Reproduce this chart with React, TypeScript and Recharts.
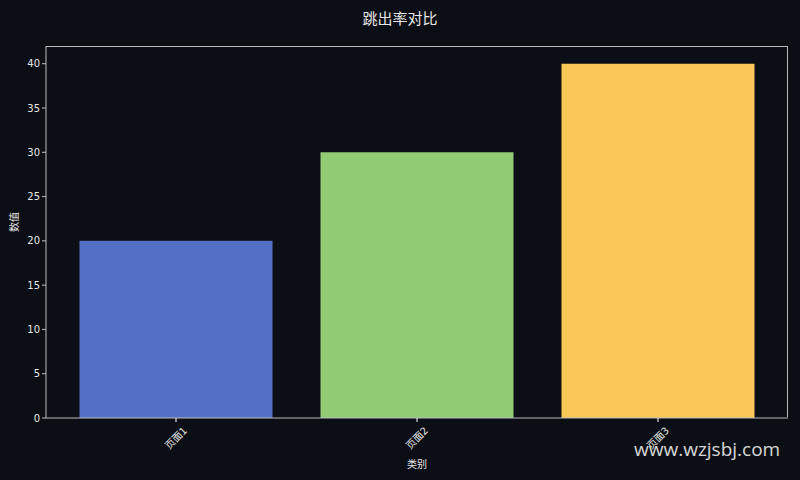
import { BarChart, Bar, XAxis, YAxis, Cell, Label } from 'recharts'

const categories = ['页面1', '页面2', '页面3']
const values = [20, 30, 40]
const yTicks = [0, 5, 10, 15, 20, 25, 30, 35, 40]

const COLORS = ['#5470c6', '#91cc75', '#fac858']
const BG = '#0b0e14'
const TEXT = '#e6e6e6'
const AXIS = '#bcbcbc'
const FONT = '"DejaVu Sans", "Noto Sans CJK SC", sans-serif'

const data = categories.map((name, i) => ({ name, value: values[i] }))

function RotatedTick({ x, y, payload }: any) {
  return (
    <text
      x={x}
      y={y + 14}
      transform={`rotate(-45 ${x} ${y + 14})`}
      textAnchor="middle"
      dominantBaseline="central"
      fill={TEXT}
      fontSize={10}
      fontFamily={FONT}
    >
      {payload.value}
    </text>
  )
}

export default function App() {
  return (
    <div style={{ position: 'absolute', left: 0, top: 0, width: 800, height: 480, background: BG, fontFamily: FONT }}>
      <div style={{ position: 'absolute', top: 7, width: 800, textAlign: 'center', color: TEXT, fontSize: 15 }}>
        跳出率对比
      </div>
      <BarChart width={800} height={480} data={data} margin={{ top: 46, right: 12, bottom: 0, left: 0 }}>
        <XAxis
          dataKey="name"
          height={62}
          padding={{ left: 9.5, right: 9.5 }}
          axisLine={{ stroke: AXIS }}
          tickLine={{ stroke: '#ffffff' }}
          tickSize={4}
          tick={<RotatedTick />}
          interval={0}
        >
          <Label value="类别" position="insideBottom" offset={12} fill={TEXT} fontSize={10} fontFamily={FONT} />
        </XAxis>
        <YAxis
          domain={[0, 42]}
          ticks={yTicks}
          width={46}
          axisLine={{ stroke: AXIS }}
          tickLine={{ stroke: AXIS }}
          tickSize={4}
          tick={{ fill: TEXT, fontSize: 10, fontFamily: FONT }}
        >
          <Label value="数值" angle={-90} position="insideLeft" offset={14} fill={TEXT} fontSize={10} fontFamily={FONT} />
        </YAxis>
        <Bar dataKey="value" barSize={193} isAnimationActive={false}>
          {data.map((_, i) => (
            <Cell key={i} fill={COLORS[i % COLORS.length]} />
          ))}
        </Bar>
      </BarChart>
      {/* frame round the plot area (top and right spines) */}
      <div
        style={{
          position: 'absolute',
          left: 46,
          top: 46,
          width: 742,
          height: 371,
          borderTop: `1px solid ${AXIS}`,
          borderRight: `1px solid ${AXIS}`,
          boxSizing: 'border-box',
          pointerEvents: 'none',
        }}
      />
      <div style={{ position: 'absolute', left: 634, top: 436, color: '#e0e0e0', fontSize: 19, fontFamily: '"Open Sans", "DejaVu Sans", sans-serif', opacity: 0.95 }}>
        www.wzjsbj.com
      </div>
    </div>
  )
}
